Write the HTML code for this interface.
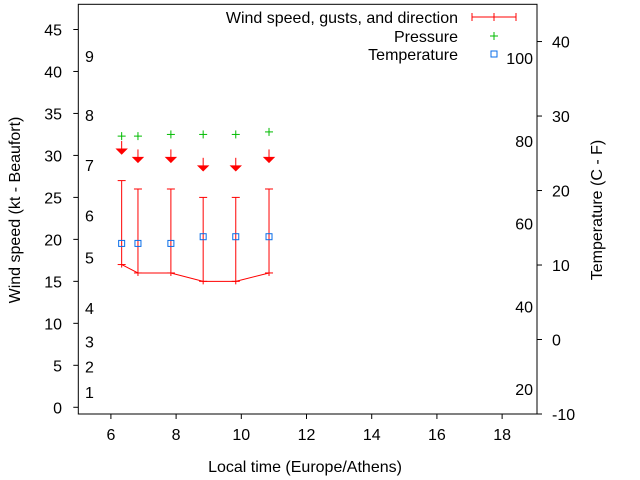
<!DOCTYPE html>
<html><head><meta charset="utf-8"><style>
html,body{margin:0;padding:0;background:#fff}
svg{display:block;font-family:"Liberation Sans",sans-serif;font-size:16px}
</style></head><body>
<svg id="chart" width="640" height="480" viewBox="0 0 640 480" xmlns="http://www.w3.org/2000/svg"></svg>
<script>
const times = [6.33, 6.83, 7.84, 8.83, 9.83, 10.85];
const windSpeed = [17, 16, 16, 15, 15, 16];
const gusts = [27, 26, 26, 25, 25, 26];
const arrowKt = [31, 30, 30, 29, 29, 30];
const pressureMark = [32.3, 32.3, 32.5, 32.5, 32.5, 32.8];
const tempC = [12.9, 12.9, 12.9, 13.8, 13.8, 13.8];
const xTicks = [6, 8, 10, 12, 14, 16, 18];
const yTicks = [0, 5, 10, 15, 20, 25, 30, 35, 40, 45];
const cTicks = [-10, 0, 10, 20, 30, 40];
const fTicks = [20, 40, 60, 80, 100];
const beaufortKt = [1, 4, 7, 11, 17, 22, 28, 34, 41];

const L = 78.3, R = 537, T = 4.3, B = 414;
const X = v => L + (v - 5) / (19.07 - 5) * (R - L);
const Y = v => B - (v + 0.8) / (48.0 + 0.8) * (B - T);
const YC = c => B - (c + 10) / 55 * (B - T);
const YF = f => YC((f - 32) * 5 / 9);

const svg = document.getElementById('chart');
const NS = 'http://www.w3.org/2000/svg';
function mk(tag, attrs, parent) {
  const e = document.createElementNS(NS, tag);
  for (const k in attrs) e.setAttribute(k, attrs[k]);
  (parent || svg).appendChild(e);
  return e;
}
function txt(x, y, s, anchor, extra) {
  const t = mk('text', Object.assign({x: x, y: y, 'text-anchor': anchor || 'start', fill: '#000'}, extra || {}));
  t.textContent = s;
  return t;
}

const frame = mk('rect', {x: L, y: T, width: R - L, height: B - T, fill: 'none', stroke: '#000', 'stroke-width': 1});



yTicks.forEach(v => {
  const y = Y(v);
  mk('line', {x1: L - 5, x2: L, y1: y, y2: y, stroke: '#000'});
  const t = txt(62, y + 6, String(v), 'end');
  
  
});
xTicks.forEach(v => {
  const x = X(v);
  mk('line', {x1: x, x2: x, y1: B, y2: B + 5, stroke: '#000'});
  const t = txt(x, B + 26, String(v), 'middle');
  
  
});
cTicks.forEach(v => {
  const y = YC(v);
  mk('line', {x1: R, x2: R + 5, y1: y, y2: y, stroke: '#000'});
  const t = txt(552, y + 6, String(v), 'start');
  
  
});
fTicks.forEach(v => {
  const t = txt(533, YF(v) + 6, String(v), 'end');
  
  
});
beaufortKt.forEach((k, i) => {
  const t = txt(85, Y(k) - 1, String(i + 1), 'start');
  
  
});

const xl = txt(305, 472, 'Local time (Europe/Athens)', 'middle');


const yl = txt(0, 0, 'Wind speed (kt - Beaufort)', 'middle', {transform: 'translate(20,210) rotate(-90)'});


const yr = txt(0, 0, 'Temperature (C - F)', 'middle', {transform: 'translate(602,210) rotate(-90)'});



const pl = mk('polyline', {points: times.map((t, i) => X(t) + ',' + Y(windSpeed[i])).join(' '), fill: 'none', stroke: '#f00', 'stroke-width': 1});


times.forEach((t, i) => {
  const x = X(t), y1 = Y(windSpeed[i]), y2 = Y(gusts[i]);
  const g = mk('g', {stroke: '#f00', 'stroke-width': 1});
  
  
  mk('line', {x1: x, x2: x, y1: y1 + 3, y2: y2}, g);
  mk('line', {x1: x - 4, x2: x + 4, y1: y2, y2: y2}, g);
  mk('line', {x1: x - 4, x2: x + 4, y1: y1, y2: y1}, g);
  const ay = Y(arrowKt[i]);
  const a = mk('g', {});
  
  
  mk('line', {x1: x, x2: x, y1: ay - 6, y2: ay + 6, stroke: '#f00', 'stroke-width': 1}, a);
  mk('polygon', {points: (x - 5) + ',' + (ay + 2) + ' ' + (x + 5) + ',' + (ay + 2) + ' ' + x + ',' + (ay + 7), fill: '#f00', stroke: '#f00'}, a);
  const py = Y(pressureMark[i]);
  const p = mk('g', {stroke: '#0b0', 'stroke-width': 1});
  
  
  mk('line', {x1: x - 4, x2: x + 4, y1: py, y2: py}, p);
  mk('line', {x1: x, x2: x, y1: py - 4, y2: py + 4}, p);
  const ty = YC(tempC[i]);
  const s = mk('rect', {x: x - 3, y: ty - 3, width: 6, height: 6, fill: 'none', stroke: '#0a6ee8', 'stroke-width': 1});
  
  
});

const lg = mk('g', {});


[['Wind speed, gusts, and direction', 17], ['Pressure', 36], ['Temperature', 54]].forEach(e => {
  const t = mk('text', {x: 458, y: e[1] + 6, 'text-anchor': 'end', fill: '#000'}, lg);
  t.textContent = e[0];
  
  
});
mk('line', {x1: 472, x2: 516, y1: 17, y2: 17, stroke: '#f00'}, lg);
[472, 494, 516].forEach(x => mk('line', {x1: x, x2: x, y1: 13, y2: 21, stroke: '#f00'}, lg));
mk('line', {x1: 490, x2: 498, y1: 36, y2: 36, stroke: '#0b0'}, lg);
mk('line', {x1: 494, x2: 494, y1: 32, y2: 40, stroke: '#0b0'}, lg);
mk('rect', {x: 491, y: 51, width: 6, height: 6, fill: 'none', stroke: '#0a6ee8'}, lg);
</script>
</body></html>
